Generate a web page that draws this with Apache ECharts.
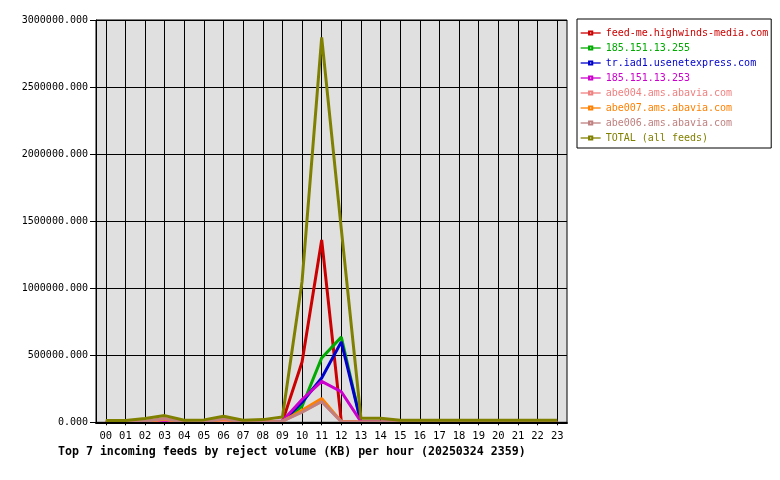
<!DOCTYPE html>
<html>
<head>
<meta charset="utf-8">
<script src="https://cdn.jsdelivr.net/npm/echarts@6/dist/echarts.min.js"></script>
<style>
html,body{margin:0;padding:0;background:#fff;}
#chart{width:780px;height:480px;}
</style>
</head>
<body>
<div id="chart"></div>
<script>
const hours = ['00','01','02','03','04','05','06','07','08','09','10','11','12','13','14','15','16','17','18','19','20','21','22','23'];
const yTicks = [0, 500000, 1000000, 1500000, 2000000, 2500000, 3000000];
const feedNames = ['feed-me.highwinds-media.com','185.151.13.255','tr.iad1.usenetexpress.com','185.151.13.253','abe004.ams.abavia.com','abe007.ams.abavia.com','abe006.ams.abavia.com','TOTAL (all feeds)'];
const feedColors = ['#cc0000','#00aa00','#0000cc','#cc00cc','#f08080','#ff8000','#c08080','#808000'];
const highwinds = [0,0,0,0,0,0,0,0,0,5000,450000,1360000,5000,0,0,0,0,0,0,0,0,0,0,0];
const ip255 = [0,0,0,0,0,0,0,0,0,5000,120000,480000,635000,0,0,0,0,0,0,0,0,0,0,0];
const usenetexpress = [0,0,0,0,0,0,0,0,0,5000,150000,330000,600000,0,0,0,0,0,0,0,0,0,0,0];
const ip253 = [0,0,2000,15000,0,0,2000,0,0,10000,170000,305000,228000,5000,0,0,0,0,0,0,0,0,0,0];
const abe004 = [0,0,5000,20000,0,0,15000,0,0,8000,80000,155000,5000,0,0,0,0,0,0,0,0,0,0,0];
const abe007 = [0,0,5000,25000,0,0,25000,0,0,8000,90000,178000,5000,0,0,0,0,0,0,0,0,0,0,0];
const abe006 = [0,0,8000,28000,0,0,28000,0,0,8000,75000,155000,5000,0,0,0,0,0,0,0,0,0,0,0];
const total = [13000,13000,28000,50000,15000,18000,45000,15000,20000,40000,1050000,2870000,1440000,30000,30000,15000,15000,15000,15000,15000,15000,15000,15000,15000];
const titleText = 'Top 7 incoming feeds by reject volume (KB) per hour (20250324 2359)';

const seriesData = [highwinds, ip255, usenetexpress, ip253, abe004, abe007, abe006, total];
const FONT = 'DejaVu Sans Mono';

const chart = echarts.init(document.getElementById('chart'), null, {renderer: 'canvas'});
chart.setOption({
  animation: false,
  backgroundColor: '#ffffff',
  title: {
    text: titleText,
    left: 58, top: 446,
    padding: 0,
    textStyle: {fontFamily: FONT, fontSize: 11.6, fontWeight: 'bold', color: '#000'}
  },
  legend: {
    orient: 'vertical',
    left: 577, top: 19,
    backgroundColor: '#ffffff',
    borderColor: '#000', borderWidth: 1, borderRadius: 0,
    padding: [9, 3, 5, 3],
    itemWidth: 20, itemHeight: 4, itemGap: 5,
    lineStyle: {width: 1.3},
    selectedMode: false,
    textStyle: {fontFamily: FONT, fontSize: 10, lineHeight: 10},
    data: feedNames.map((n, i) => ({name: n, textStyle: {color: feedColors[i]}}))
  },
  grid: [
    {left: 96, top: 20, width: 471, height: 402.3, show: true, backgroundColor: '#e0e0e0', borderColor: '#000', borderWidth: 1, containLabel: false},
    {left: 105.8, top: 20, width: 451.4, height: 402.3, containLabel: false}
  ],
  xAxis: [
    {gridIndex: 0, type: 'value', min: 0, max: 1, show: true, z: 10,
      axisLine: {show: true, onZero: false, lineStyle: {color: '#000', width: 2}},
      axisTick: {show: false}, axisLabel: {show: false}, splitLine: {show: false}
    },
    {gridIndex: 1, type: 'category', data: hours, boundaryGap: false,
      axisLine: {show: false},
      axisTick: {show: true, length: 3, lineStyle: {color: '#000'}},
      axisLabel: {fontFamily: FONT, fontSize: 10.5, color: '#000', margin: 8, interval: 0},
      splitLine: {show: true, interval: 0, lineStyle: {color: '#000', width: 1}}
    }
  ],
  yAxis: [
    {gridIndex: 0, type: 'value', min: yTicks[0], max: yTicks[yTicks.length-1], interval: yTicks[1]-yTicks[0],
      axisLine: {show: true, lineStyle: {color: '#000'}},
      axisTick: {show: true, length: 6, lineStyle: {color: '#000'}},
      axisLabel: {fontFamily: FONT, fontSize: 10, color: '#000', margin: 8, formatter: v => v.toFixed(3)},
      splitLine: {show: true, lineStyle: {color: '#000', width: 1}}
    },
    {gridIndex: 1, type: 'value', min: yTicks[0], max: yTicks[yTicks.length-1], show: false}
  ],
  series: feedNames.map((n, i) => ({
    name: n, type: 'line', xAxisIndex: 1, yAxisIndex: 1,
    data: seriesData[i],
    showSymbol: false, symbol: 'emptyRect', symbolSize: 3,
    color: feedColors[i],
    lineStyle: {color: feedColors[i], width: 3},
    itemStyle: {color: feedColors[i]},
    emphasis: {disabled: true}
  }))
});
</script>
</body>
</html>
